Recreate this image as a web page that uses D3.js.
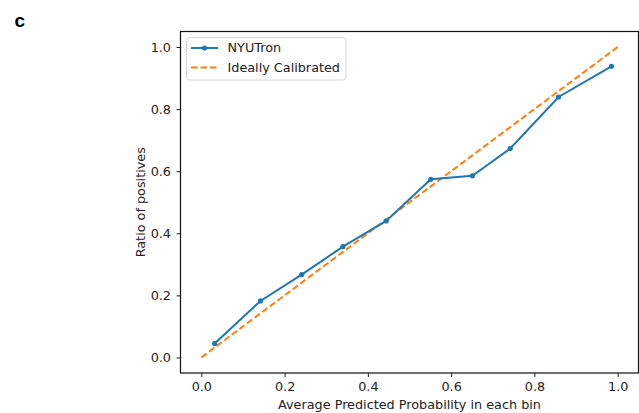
<!DOCTYPE html>
<meta charset="utf-8">
<script src="https://d3js.org/d3.v7.min.js"></script>
<style>
  body { margin: 0; background: #fff; }
  text { font-family: "DejaVu Sans", sans-serif; }
</style>
<div id="chart"></div>
<script>
// calibration bins
var binProb = [0.032, 0.142, 0.241, 0.340, 0.444, 0.551, 0.651, 0.742, 0.858, 0.985];
var binPos  = [0.045, 0.182, 0.267, 0.357, 0.440, 0.574, 0.585, 0.673, 0.839, 0.938];
var idealLine = [0, 1];
var tickVals = [0, 0.2, 0.4, 0.6, 0.8, 1.0];
var seriesNames = ["NYUTron", "Ideally Calibrated"];

var W = 639, H = 413;
var svg = d3.select("#chart").append("svg")
    .attr("width", W)
    .attr("height", H);

// plot box
var boxL = 180.5, boxR = 638.5, boxT = 31.5, boxB = 373;

var x = d3.scaleLinear().domain([-0.05, 1.05]).range([boxL, boxR]);
var y = d3.scaleLinear().domain([-0.05, 1.05]).range([boxB, boxT]);

// panel letter
svg.append("text")
    .attr("x", 14.5)
    .attr("y", 27)
    .style("font-family", "'Liberation Sans', Arial, sans-serif")
    .style("font-weight", "bold")
    .style("font-size", "19px")
    .text("c");

// axes
var xAxis = svg.append("g")
    .attr("transform", "translate(0," + boxB + ")")
    .call(d3.axisBottom(x).tickValues(tickVals).tickFormat(d3.format(".1f")).tickSize(4).tickPadding(5).tickSizeOuter(0));
var yAxis = svg.append("g")
    .attr("transform", "translate(" + boxL + ",0)")
    .call(d3.axisLeft(y).tickValues(tickVals).tickFormat(d3.format(".1f")).tickSize(4).tickPadding(5.5).tickSizeOuter(0));

[xAxis, yAxis].forEach(function(a) {
  a.selectAll("text").style("font-size", "12.8px").style("font-family", "'DejaVu Sans', sans-serif").attr("fill", "#222");
  a.selectAll("line").attr("stroke", "#222").attr("stroke-width", 1);
  a.select(".domain").remove();
});

// frame
svg.append("rect")
    .attr("x", boxL)
    .attr("y", boxT)
    .attr("width", boxR - boxL)
    .attr("height", boxB - boxT)
    .attr("fill", "none")
    .attr("stroke", "#111")
    .attr("stroke-width", 1.2);

// axis labels
svg.append("text")
    .attr("x", (boxL + boxR) / 2)
    .attr("y", 409)
    .attr("text-anchor", "middle")
    .style("font-size", "12.8px")
    .attr("fill", "#222")
    .text("Average Predicted Probability in each bin");

svg.append("text")
    .attr("transform", "translate(145," + ((boxT + boxB) / 2) + ") rotate(-90)")
    .attr("text-anchor", "middle")
    .style("font-size", "12.8px")
    .attr("fill", "#222")
    .text("Ratio of positives");

// ideal line
svg.append("line")
    .attr("x1", x(idealLine[0])).attr("y1", y(idealLine[0]))
    .attr("x2", x(idealLine[1])).attr("y2", y(idealLine[1]))
    .attr("stroke", "#ff7f0e")
    .attr("stroke-width", 2)
    .attr("stroke-dasharray", "6.5,3");

// NYUTron curve
var pts = binProb.map(function(p, i) { return [p, binPos[i]]; });
svg.append("path")
    .datum(pts)
    .attr("fill", "none")
    .attr("stroke", "#1f77b4")
    .attr("stroke-width", 2)
    .attr("d", d3.line().x(function(d) { return x(d[0]); }).y(function(d) { return y(d[1]); }));

svg.selectAll(".dot")
    .data(pts)
    .enter().append("circle")
    .attr("class", "dot")
    .attr("cx", function(d) { return x(d[0]); })
    .attr("cy", function(d) { return y(d[1]); })
    .attr("r", 2.6)
    .attr("fill", "#1f77b4");

// legend
var lg = svg.append("g").attr("transform", "translate(186.5,37.5)");
lg.append("rect")
    .attr("width", 159.5)
    .attr("height", 42.5)
    .attr("rx", 3)
    .attr("fill", "#fff")
    .attr("fill-opacity", 0.8)
    .attr("stroke", "#d6d6d6");

lg.append("line")
    .attr("x1", 4.5).attr("x2", 31.5).attr("y1", 10.5).attr("y2", 10.5)
    .attr("stroke", "#1f77b4").attr("stroke-width", 2);
lg.append("circle")
    .attr("cx", 18).attr("cy", 10.5).attr("r", 2.6).attr("fill", "#1f77b4");
lg.append("line")
    .attr("x1", 4.5).attr("x2", 31.5).attr("y1", 30).attr("y2", 30)
    .attr("stroke", "#ff7f0e").attr("stroke-width", 2)
    .attr("stroke-dasharray", "6.5,3");

lg.selectAll(".lab")
    .data(seriesNames)
    .enter().append("text")
    .attr("class", "lab")
    .attr("x", 41)
    .attr("y", function(d, i) { return 10.5 + i * 19.5; })
    .attr("dy", "0.35em")
    .style("font-size", "12.8px")
    .attr("fill", "#222")
    .text(function(d) { return d; });
</script>
